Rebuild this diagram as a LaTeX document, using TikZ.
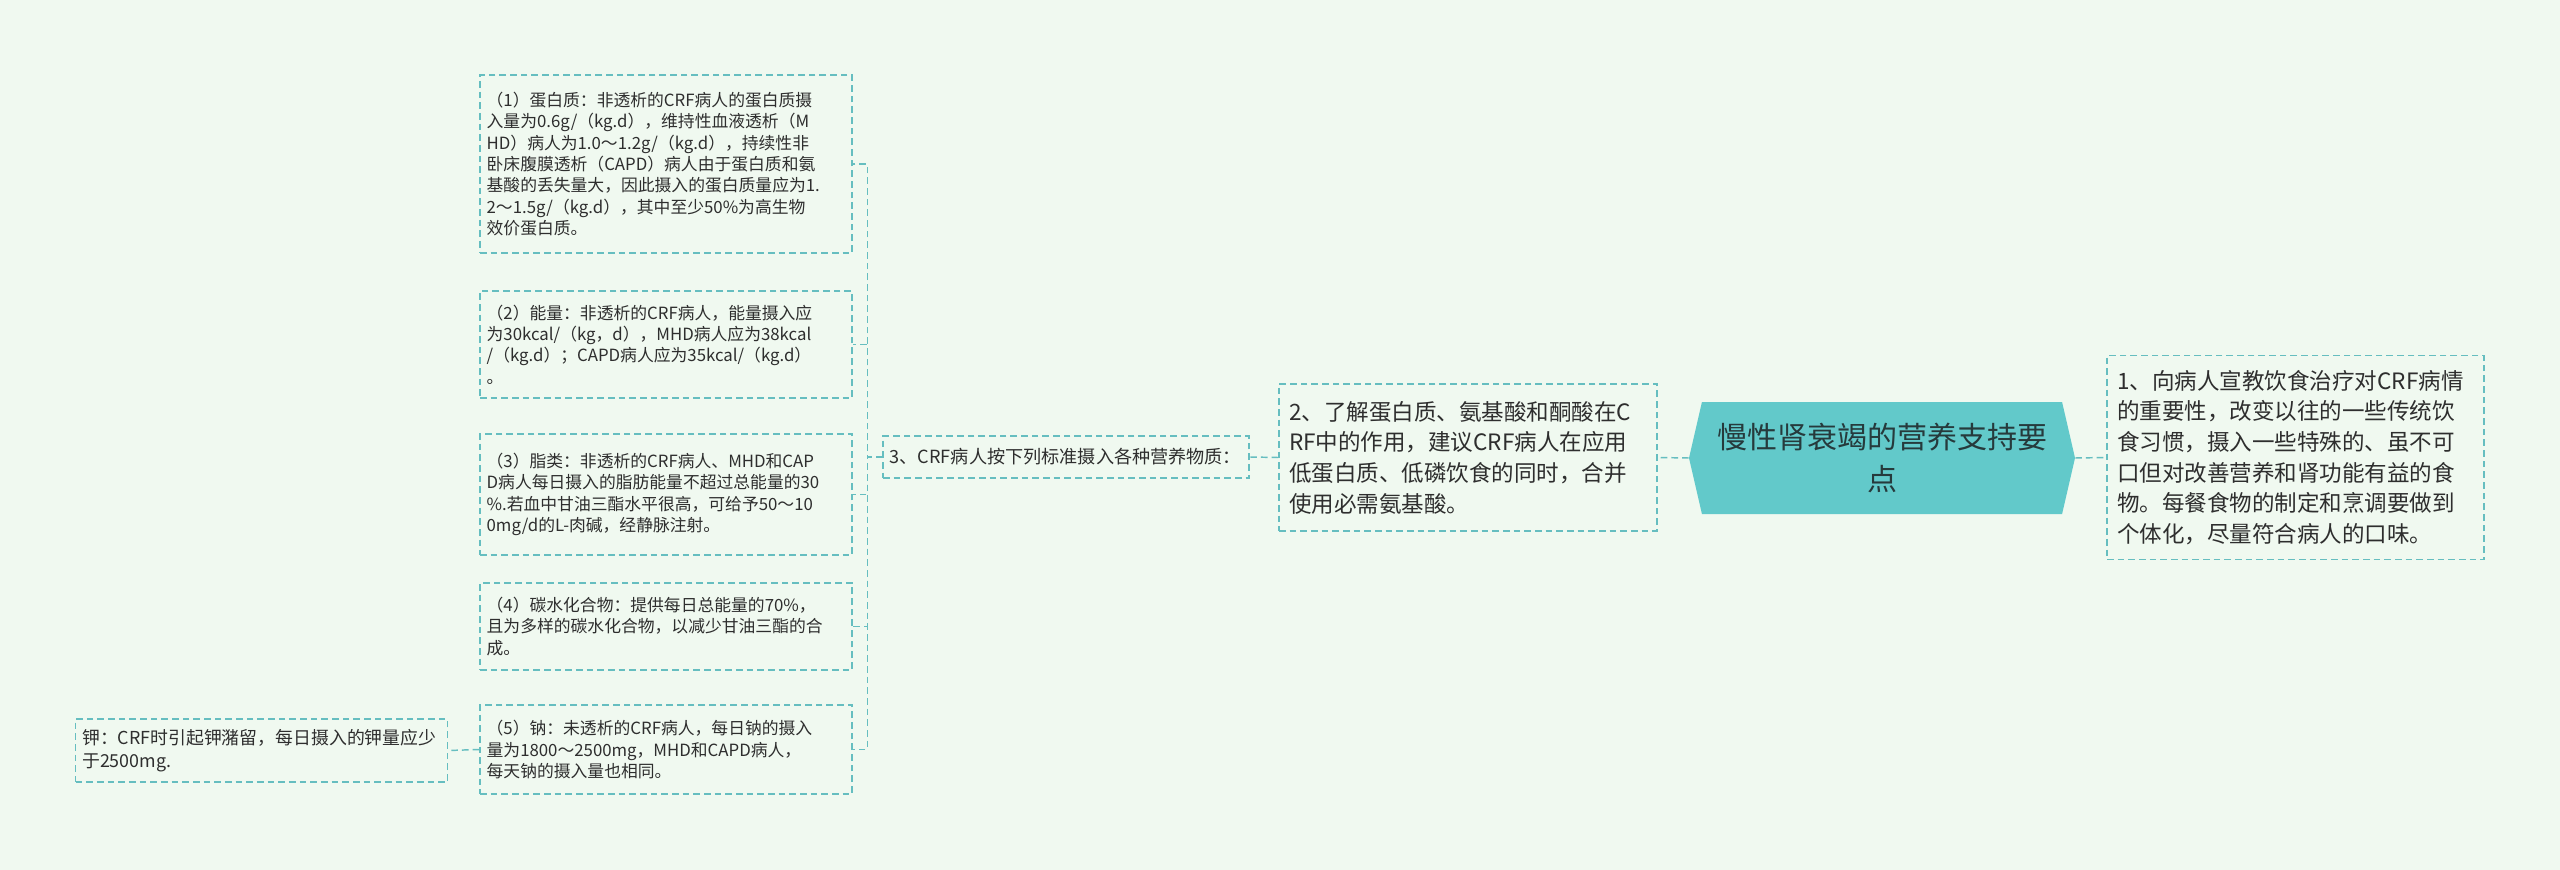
\documentclass[tikz,border=0pt]{standalone}
\usepackage{fontspec}
\setmainfont{Noto Sans CJK SC}
\usetikzlibrary{shapes.symbols}
\definecolor{bgmint}{HTML}{F0F9F0}
\definecolor{linkteal}{HTML}{66BEC0}
\definecolor{hubfill}{HTML}{62C9CA}
\definecolor{bodytext}{HTML}{2E2E2E}
\definecolor{hubtext}{HTML}{263A3C}
\tikzstyle{hub} = [signal, 
signal to=west and east, 
signal pointer angle=154,
minimum width=289.5pt, 
minimum height=84pt,
inner sep=0pt,
align=center,
text=hubtext,
font=\fontsize{22.5}{31.5}\selectfont,
fill=hubfill]
\tikzstyle{topic} = [rectangle, 
draw=linkteal, line width=1.1pt, dash pattern=on 5pt off 3pt,
inner xsep=7.5pt,
align=left,
text=bodytext,
font=\fontsize{16.9}{23}\selectfont]
\tikzstyle{detail} = [rectangle, 
draw=linkteal, line width=1.1pt, dash pattern=on 5pt off 3pt,
inner xsep=5pt,
minimum width=279pt,
text width=269pt,
align=left,
text=bodytext,
font=\fontsize{12.6}{16}\selectfont]
\tikzstyle{link} = [draw=linkteal, line width=1.1pt, dash pattern=on 5pt off 3pt]

\begin{document}
\begin{tikzpicture}[x=0.75pt, y=-0.75pt]
            \fill [bgmint] (0,0) rectangle (2560,870);
            \useasboundingbox (0,0) rectangle (2560,870);

            \node (hub) [hub] at (1882,458) {慢性肾衰竭的营养支持要\\点};
            \node (tip1) [topic, minimum width=282.75pt, minimum height=153pt, text width=267.75pt] at (2295.5,457.5) {1、向病人宣教饮食治疗对CRF病情\\的重要性，改变以往的一些传统饮\\食习惯，摄入一些特殊的、虽不可\\口但对改善营养和肾功能有益的食\\物。每餐食物的制定和烹调要做到\\个体化，尽量符合病人的口味。};
            \node (tip2) [topic, minimum width=283.5pt, minimum height=110.25pt, text width=268.5pt] at (1468,457.5) {2、了解蛋白质、氨基酸和酮酸在C\\RF中的作用，建议CRF病人在应用\\低蛋白质、低磷饮食的同时，合并\\使用必需氨基酸。};
            \node (tip3) [detail, minimum width=274.5pt, minimum height=31.5pt, text width=264.5pt, font=\fontsize{13.6}{16}\selectfont] at (1066,457) {3、CRF病人按下列标准摄入各种营养物质：};

            \node (sub1) [detail, minimum height=133.5pt] at (666,164) {（1）蛋白质：非透析的CRF病人的蛋白质摄\\入量为0.6g/（kg.d），维持性血液透析（M\\HD）病人为1.0～1.2g/（kg.d），持续性非\\卧床腹膜透析（CAPD）病人由于蛋白质和氨\\基酸的丢失量大，因此摄入的蛋白质量应为1.\\2～1.5g/（kg.d），其中至少50\%为高生物\\效价蛋白质。};
            \node (sub2) [detail, minimum height=80.25pt] at (666,344.5) {（2）能量：非透析的CRF病人，能量摄入应\\为30kcal/（kg，d），MHD病人应为38kcal\\/（kg.d）；CAPD病人应为35kcal/（kg.d）\\。};
            \node (sub3) [detail, minimum height=90.75pt] at (666,494.5) {（3）脂类：非透析的CRF病人、MHD和CAP\\D病人每日摄入的脂肪能量不超过总能量的30\\\%.若血中甘油三酯水平很高，可给予50～10\\0mg/d的L-肉碱，经静脉注射。};
            \node (sub4) [detail, minimum height=65.25pt] at (666,626.5) {（4）碳水化合物：提供每日总能量的70\%，\\且为多样的碳水化合物，以减少甘油三酯的合\\成。};
            \node (sub5) [detail, minimum height=66.75pt] at (666,749.5) {（5）钠：未透析的CRF病人，每日钠的摄入\\量为1800～2500mg，MHD和CAPD病人，\\每天钠的摄入量也相同。};
            \node (potassium) [detail, minimum height=47.25pt, font=\fontsize{13.4}{17}\selectfont] at (261.5,750.5) {钾：CRF时引起钾潴留，每日摄入的钾量应少\\于2500mg.};

            \draw [link] (hub.east) -- (tip1.west);
            \draw [link] (hub.west) -- (tip2.east);
            \draw [link] (tip2.west) -- (tip3.east);
            \foreach \s in {sub1,sub2,sub3,sub4,sub5}
                \draw [link] (tip3.west) -- ++(-15,0) |- (\s.east);
            \draw [link] (sub5.west) -- (potassium.east);
        \end{tikzpicture}
\end{document}
